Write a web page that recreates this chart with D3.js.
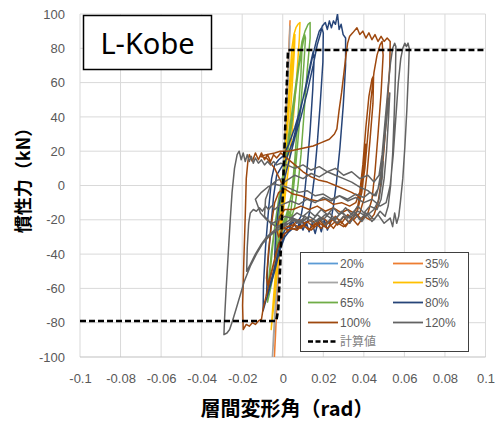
<!DOCTYPE html>
<html>
<head>
<meta charset="utf-8">
<script src="https://cdn.jsdelivr.net/npm/d3@7"></script>
<style>
  html, body { margin: 0; padding: 0; background: #ffffff; }
  svg { display: block; }
</style>
</head>
<body>
<svg id="chart" width="500" height="425"></svg>
<script>
// ---------------- DATA ----------------
const chartTitle = "L-Kobe";
const xTitle = "層間変形角（rad）";
const yTitle = "慣性力（kN）";
const xTicks = [-0.1, -0.08, -0.06, -0.04, -0.02, 0, 0.02, 0.04, 0.06, 0.08, 0.1];
const xTickLabels = ["-0.1", "-0.08", "-0.06", "-0.04", "-0.02", "0", "0.02", "0.04", "0.06", "0.08", "0.1"];
const yTicks = [-100, -80, -60, -40, -20, 0, 20, 40, 60, 80, 100];
const yTickLabels = ["-100", "-80", "-60", "-40", "-20", "0", "20", "40", "60", "80", "100"];

const seriesNames = ["20%", "35%", "45%", "55%", "65%", "80%", "100%", "120%", "計算値"];
const seriesColors = ["#5B9BD5", "#ED7D31", "#A5A5A5", "#FFC000", "#70AD47", "#264478", "#9E480E", "#636363", "#000000"];

// [drift angle (rad), force (kN)]
const s20 = [[0,0],[0.0008,15],[0.0016,30],[0.0024,42],[0.003,48],[0.0022,32],[0.001,12],[0,-6],[-0.001,-20],[-0.002,-34],[-0.003,-45],[-0.0022,-30],[-0.001,-12],[0,4],[0.0012,22],[0.0024,40],[0.0028,45],[0.0018,26],[0.0005,5],[-0.001,-18],[-0.0024,-38],[-0.0028,-42],[-0.0015,-22],[0,0]];

const s35 = [[0,0],[0.001,25],[0.002,52],[0.003,80],[0.0036,96],[0.0032,85],[0.0022,58],[0.0012,30],[0,2],[-0.001,-22],[-0.002,-48],[-0.003,-72],[-0.0036,-88],[-0.0042,-102],[-0.0036,-86],[-0.0025,-60],[-0.0012,-30],[0,-2],[0.0012,28],[0.0024,58],[0.0032,82],[0.0028,72],[0.0016,42],[0.0004,10],[-0.001,-24],[-0.0022,-52],[-0.0032,-76],[-0.0028,-64],[-0.0016,-38],[0,-2]];

const s45 = [[0,0],[0.0012,28],[0.0024,56],[0.0032,78],[0.0036,93],[0.0032,82],[0.002,52],[0.0008,22],[-0.0005,-8],[-0.0018,-38],[-0.003,-64],[-0.004,-82],[-0.0048,-95],[-0.0052,-102],[-0.0046,-88],[-0.0034,-64],[-0.002,-36],[-0.0006,-6],[0.001,24],[0.0022,50],[0.003,70],[0.0026,60],[0.0012,30],[0,2],[-0.0015,-32],[-0.003,-62],[-0.0038,-76],[-0.003,-58],[-0.0016,-30],[0,0]];

const s55 = [[0,0],[0.002,35],[0.0035,62],[0.0045,80],[0.0055,88],[0.0065,92],[0.0075,94],[0.0085,95],[0.0082,86],[0.0068,62],[0.005,36],[0.003,12],[0.001,-8],[-0.001,-28],[-0.0025,-48],[-0.004,-66],[-0.005,-76],[-0.0057,-84],[-0.005,-72],[-0.0035,-50],[-0.0015,-24],[0.0005,4],[0.0025,36],[0.0045,68],[0.0055,82],[0.006,88],[0.0058,80],[0.0045,55],[0.003,28],[0.001,0],[-0.001,-26],[-0.0028,-50],[-0.004,-62],[-0.0045,-70],[-0.0035,-55],[-0.002,-32],[0,-4],[0.002,28],[0.0038,60],[0.0042,70],[0.0036,58],[0.002,30],[0,0]];

const s65 = [[0,0],[0.003,30],[0.006,55],[0.008,72],[0.0095,84],[0.011,90],[0.0125,94],[0.0135,95],[0.0135,86],[0.012,66],[0.0105,42],[0.009,18],[0.0075,0],[0.006,-12],[0.0045,-18],[0.003,-15],[0.0015,-22],[0,-26],[-0.002,-36],[-0.004,-48],[-0.006,-60],[-0.0075,-68],[-0.007,-56],[-0.0055,-38],[-0.0035,-20],[-0.0015,-4],[0.001,12],[0.003,26],[0.005,44],[0.0075,66],[0.0095,80],[0.0108,88],[0.0112,86],[0.0105,72],[0.009,48],[0.0072,22],[0.0058,4],[0.0045,-10],[0.0035,-20],[0.0025,-14],[0.0012,-20],[-0.0005,-26],[-0.0025,-38],[-0.0045,-50],[-0.0065,-62],[-0.006,-48],[-0.0045,-30],[-0.0025,-12],[0,4],[0.0025,20],[0.0045,36],[0.0065,56],[0.0085,74],[0.0095,80],[0.009,66],[0.0075,40],[0.006,16],[0.0045,-4],[0.003,-12],[0.0015,-18],[0,-22],[-0.002,-32],[-0.0035,-40],[-0.0025,-24],[-0.001,-8],[0,0]];

const s80 = [[0,0],[0.003,14],[0.006,28],[0.009,40],[0.012,54],[0.015,70],[0.017,82],[0.0185,88],[0.0195,93],[0.021,95],[0.022,91],[0.023,96],[0.024,92],[0.025,96],[0.026,94],[0.027,100],[0.0278,91],[0.0288,94],[0.0298,88],[0.031,86],[0.031,70],[0.0298,46],[0.0282,22],[0.0265,2],[0.025,-12],[0.0235,-22],[0.022,-26],[0.0205,-20],[0.019,-27],[0.0175,-21],[0.016,-28],[0.0145,-22],[0.013,-27],[0.0115,-21],[0.01,-26],[0.0085,-22],[0.007,-26],[0.005,-25],[0.003,-27],[0.001,-30],[-0.0015,-38],[-0.004,-50],[-0.0065,-60],[-0.0085,-68],[-0.0097,-73],[-0.0095,-58],[-0.0085,-36],[-0.007,-14],[-0.0055,4],[-0.004,12],[-0.002,15],[0,17],[0.003,24],[0.006,34],[0.009,46],[0.012,60],[0.0145,74],[0.0165,84],[0.018,90],[0.0192,92],[0.02,89],[0.0198,72],[0.0185,48],[0.017,24],[0.0155,4],[0.014,-10],[0.0125,-20],[0.011,-24],[0.009,-20],[0.007,-25],[0.005,-21],[0.003,-26],[0.001,-28],[-0.002,-38],[-0.0045,-50],[-0.0068,-60],[-0.008,-64],[-0.0075,-48],[-0.006,-26],[-0.0045,-6],[-0.003,6],[-0.001,10],[0.002,16],[0.005,26],[0.008,40],[0.011,56],[0.0135,70],[0.015,78],[0.0155,74],[0.0148,56],[0.0135,32],[0.012,10],[0.0105,-8],[0.009,-18],[0.007,-22],[0.005,-19],[0.003,-24],[0.001,-26],[-0.002,-34],[-0.004,-42],[-0.0035,-28],[-0.002,-12],[0,0]];

const s100 = [[0,0],[-0.004,10],[-0.008,16],[-0.0112,17],[-0.008,18],[-0.004,19],[-0.0013,20],[0.003,20],[0.007,21],[0.011,22],[0.015,23],[0.019,25],[0.023,27],[0.0255,30],[0.0267,33],[0.0278,44],[0.029,54],[0.0302,66],[0.0312,76],[0.032,83],[0.033,87],[0.0345,89],[0.0366,92],[0.038,88],[0.0395,90],[0.041,86],[0.0425,89],[0.044,85],[0.0455,88],[0.047,84],[0.0485,87],[0.05,84],[0.0515,86],[0.053,84],[0.0528,70],[0.0515,46],[0.05,22],[0.0485,2],[0.047,-10],[0.045,-17],[0.043,-20],[0.04,-18],[0.037,-23],[0.034,-19],[0.031,-24],[0.028,-20],[0.025,-25],[0.022,-21],[0.019,-25],[0.016,-22],[0.013,-26],[0.01,-23],[0.007,-26],[0.004,-25],[0.001,-28],[-0.002,-34],[-0.0045,-46],[-0.007,-58],[-0.0085,-66],[-0.0097,-72],[-0.0105,-78],[-0.012,-79],[-0.0135,-81],[-0.015,-80],[-0.0165,-82],[-0.018,-81],[-0.0195,-84],[-0.0198,-70],[-0.0192,-44],[-0.0185,-18],[-0.018,4],[-0.0172,14],[-0.0165,18],[-0.015,14],[-0.0135,19],[-0.012,15],[-0.0105,19],[-0.009,15],[-0.0075,18],[-0.006,14],[-0.0045,18],[-0.003,16],[-0.001,19],[0.002,16],[0.006,12],[0.01,8],[0.014,5],[0.018,3],[0.022,2],[0.026,0],[0.03,-2],[0.034,-4],[0.037,-6],[0.039,-2],[0.0405,10],[0.042,30],[0.0435,50],[0.045,66],[0.0465,76],[0.048,82],[0.049,84],[0.0495,76],[0.0485,54],[0.047,30],[0.0455,8],[0.044,-8],[0.042,-16],[0.039,-20],[0.036,-16],[0.033,-22],[0.03,-18],[0.027,-23],[0.024,-19],[0.021,-24],[0.018,-20],[0.015,-24],[0.012,-21],[0.009,-25],[0.006,-23],[0.003,-26],[0,-29],[-0.003,-38],[-0.0055,-50],[-0.0075,-58],[-0.008,-54],[-0.007,-38],[-0.0055,-22],[-0.004,-10],[-0.002,-4],[0.001,-2],[0.005,-5],[0.009,-6],[0.013,-8],[0.017,-9],[0.021,-8],[0.025,-11],[0.029,-10],[0.033,-12],[0.036,-10],[0.038,-4],[0.0395,12],[0.041,34],[0.0425,52],[0.044,62],[0.0448,64],[0.0445,48],[0.043,26],[0.0415,6],[0.04,-8],[0.038,-16],[0.035,-20],[0.032,-17],[0.029,-22],[0.026,-18],[0.023,-22],[0.02,-19],[0.017,-23],[0.014,-20],[0.011,-22],[0.008,-20],[0.005,-23],[0.002,-24],[0,-25],[-0.002,-30],[-0.003,-26],[-0.0015,-18],[0.001,-14],[0.005,-14],[0.009,-12],[0.013,-14],[0.017,-12],[0.021,-15],[0.025,-13],[0.029,-16],[0.032,-14],[0.035,-16],[0.037,-12],[0.0385,-2],[0.04,14],[0.041,24],[0.0405,12],[0.039,-4],[0.037,-14],[0.034,-20],[0.03,-24],[0.026,-21],[0.022,-25],[0.018,-22],[0.014,-26],[0.01,-23],[0.006,-25],[0.002,-26],[0,-24]];

const s120 = [[0,0],[0.004,-2],[0.008,-4],[0.012,-3],[0.016,-6],[0.02,-5],[0.024,-8],[0.028,-6],[0.032,-9],[0.036,-7],[0.04,-10],[0.044,-8],[0.048,-12],[0.051,-10],[0.053,0],[0.0545,18],[0.0558,40],[0.057,60],[0.0582,74],[0.0592,80],[0.0602,83],[0.061,81],[0.0618,83],[0.0624,80],[0.062,66],[0.0612,44],[0.0602,22],[0.0592,4],[0.058,-10],[0.0572,-18],[0.0562,-22],[0.0552,-16],[0.0542,-24],[0.053,-19],[0.05,-22],[0.047,-17],[0.044,-21],[0.041,-16],[0.038,-20],[0.035,-15],[0.032,-19],[0.029,-15],[0.026,-20],[0.023,-16],[0.02,-20],[0.017,-17],[0.014,-21],[0.011,-18],[0.008,-22],[0.005,-20],[0.002,-23],[-0.001,-25],[-0.004,-27],[-0.007,-30],[-0.01,-34],[-0.013,-40],[-0.016,-47],[-0.019,-56],[-0.021,-64],[-0.023,-72],[-0.0248,-79],[-0.0262,-84],[-0.0275,-86],[-0.029,-87],[-0.0288,-80],[-0.028,-62],[-0.027,-42],[-0.026,-22],[-0.025,-4],[-0.0238,10],[-0.0225,18],[-0.0215,20],[-0.0205,15],[-0.0195,19],[-0.0185,14],[-0.0175,18],[-0.0165,14],[-0.0155,17],[-0.0145,13],[-0.0135,16],[-0.012,13],[-0.0105,15],[-0.009,12],[-0.0075,14],[-0.006,12],[-0.0045,14],[-0.003,12],[-0.001,13],[0.002,12],[0.006,10],[0.01,12],[0.014,9],[0.018,11],[0.022,8],[0.026,10],[0.03,6],[0.034,8],[0.038,4],[0.042,6],[0.045,2],[0.0475,6],[0.049,18],[0.0505,38],[0.052,58],[0.0532,72],[0.0542,80],[0.0552,83],[0.0558,81],[0.0556,66],[0.055,42],[0.0542,18],[0.0532,0],[0.052,-12],[0.0505,-18],[0.048,-15],[0.045,-20],[0.042,-16],[0.039,-21],[0.036,-17],[0.033,-22],[0.03,-18],[0.027,-22],[0.024,-19],[0.021,-23],[0.018,-19],[0.015,-22],[0.012,-19],[0.009,-22],[0.006,-20],[0.003,-22],[0,-23],[-0.004,-26],[-0.008,-30],[-0.011,-35],[-0.0135,-40],[-0.016,-46],[-0.0178,-50],[-0.0175,-36],[-0.0168,-22],[-0.016,-16],[-0.0145,-14],[-0.013,-15],[-0.0115,-13],[-0.01,-15],[-0.0085,-12],[-0.007,-14],[-0.0055,-12],[-0.004,-14],[-0.002,-12],[0,-11],[0.004,-9],[0.008,-11],[0.012,-8],[0.016,-10],[0.02,-7],[0.024,-9],[0.028,-6],[0.032,-8],[0.036,-5],[0.04,-7],[0.043,-4],[0.046,-6],[0.048,2],[0.0495,18],[0.051,36],[0.0522,50],[0.0528,54],[0.0522,40],[0.0512,20],[0.05,4],[0.0485,-8],[0.0465,-14],[0.043,-12],[0.04,-16],[0.037,-12],[0.034,-17],[0.031,-13],[0.028,-17],[0.025,-13],[0.022,-17],[0.019,-14],[0.016,-18],[0.013,-15],[0.01,-18],[0.007,-16],[0.004,-19],[0.001,-18],[-0.002,-20],[-0.005,-22],[-0.008,-20],[-0.011,-16],[-0.0135,-8],[-0.0105,-4],[-0.0075,-1],[-0.0045,1],[-0.0015,0],[0.002,3],[0.006,6],[0.01,4],[0.014,7],[0.018,5],[0.022,8],[0.026,6],[0.03,4],[0.034,2],[0.038,-1],[0.042,-3],[0.045,-6],[0.047,-2],[0.0485,8],[0.0495,14],[0.049,4],[0.0475,-8],[0.045,-14],[0.041,-18],[0.037,-15],[0.033,-19],[0.029,-16],[0.025,-20],[0.021,-17],[0.017,-21],[0.013,-18],[0.009,-21],[0.005,-19],[0.001,-22],[-0.003,-24],[-0.006,-22],[-0.009,-18],[-0.0085,-8],[-0.006,0],[-0.003,3],[0,4]];

const sCalc = [[-0.1,-79],[-0.0032,-79],[-0.0022,-72],[-0.0012,-45],[-0.0002,-12],[0.0008,20],[0.0026,79],[0.1,79]];

const seriesData = [s20, s35, s45, s55, s65, s80, s100, s120, sCalc];

// ---------------- DRAWING ----------------
const svg = d3.select("#chart");
const W = 500, H = 425;
const plot = { left: 80, right: 485.5, top: 14, bottom: 357 };

const x = d3.scaleLinear().domain([-0.1, 0.1]).range([plot.left, plot.right]);
const y = d3.scaleLinear().domain([-100, 100]).range([plot.bottom, plot.top]);

svg.append("rect").attr("x", 0).attr("y", 0).attr("width", W).attr("height", H).attr("fill", "#fff");

// gridlines
const grid = svg.append("g");
grid.selectAll("line.v").data(xTicks).enter().append("line")
  .attr("x1", d => x(d)).attr("x2", d => x(d))
  .attr("y1", plot.top).attr("y2", plot.bottom)
  .attr("stroke", "#D9D9D9").attr("stroke-width", 1);
grid.selectAll("line.h").data(yTicks).enter().append("line")
  .attr("x1", plot.left).attr("x2", plot.right)
  .attr("y1", d => y(d)).attr("y2", d => y(d))
  .attr("stroke", d => d === -100 ? "#BFBFBF" : "#D9D9D9").attr("stroke-width", 1);

// axes via d3 (labels only, no domain/ticks)
const xAxis = d3.axisBottom(x).tickValues(xTicks).tickSize(0).tickPadding(0)
  .tickFormat((d, i) => xTickLabels[i]);
const gx = svg.append("g").attr("transform", `translate(0, ${plot.bottom + 17})`).call(xAxis);
gx.select(".domain").remove();
gx.selectAll("text").attr("fill", "#595959").attr("font-size", "13px")
  .attr("font-family", "Liberation Sans, Arial, sans-serif");

const yAxis = d3.axisLeft(y).tickValues(yTicks).tickSize(0).tickPadding(0)
  .tickFormat((d, i) => yTickLabels[i]);
const gy = svg.append("g").attr("transform", `translate(${plot.left - 15}, 0)`).call(yAxis);
gy.select(".domain").remove();
gy.selectAll("text").attr("fill", "#595959").attr("font-size", "13px")
  .attr("font-family", "Liberation Sans, Arial, sans-serif");

// clip
svg.append("clipPath").attr("id", "plotclip").append("rect")
  .attr("x", plot.left).attr("y", plot.top)
  .attr("width", plot.right - plot.left).attr("height", plot.bottom - plot.top);

const line = d3.line().x(d => x(d[0])).y(d => y(d[1]));
const gSeries = svg.append("g").attr("clip-path", "url(#plotclip)");
seriesData.forEach((data, i) => {
  const isCalc = i === seriesData.length - 1;
  gSeries.append("path").datum(data)
    .attr("d", line)
    .attr("fill", "none")
    .attr("stroke", seriesColors[i])
    .attr("stroke-width", isCalc ? 2.6 : 1.5)
    .attr("stroke-dasharray", isCalc ? "6,3" : null)
    .attr("stroke-linejoin", "round");
});

// title box
const tb = svg.append("g");
tb.append("rect").attr("x", 83.5).attr("y", 15.5).attr("width", 128).attr("height", 54)
  .attr("fill", "#fff").attr("stroke", "#000").attr("stroke-width", 1.5);
tb.append("text").attr("x", 147.5).attr("y", 54).attr("text-anchor", "middle")
  .attr("font-family", "Noto Sans, sans-serif").attr("font-size", "29px").attr("fill", "#000")
  .text(chartTitle);

// legend
const lg = svg.append("g");
lg.append("rect").attr("x", 300.5).attr("y", 252.5).attr("width", 168).attr("height", 99)
  .attr("fill", "#fff").attr("stroke", "#404040").attr("stroke-width", 1);
const rowY = [263.5, 282.5, 302.5, 322.5, 341.5];
const colX = [308, 393];
seriesNames.forEach((name, i) => {
  const isCalc = i === seriesNames.length - 1;
  const cx = colX[i % 2];
  const cy = rowY[Math.floor(i / 2)];
  lg.append("line").attr("x1", cx).attr("x2", cx + 30).attr("y1", cy).attr("y2", cy)
    .attr("stroke", seriesColors[i]).attr("stroke-width", isCalc ? 2.6 : 1.8)
    .attr("stroke-dasharray", isCalc ? "5,2.5" : null);
  lg.append("text").attr("x", cx + 32).attr("y", cy + 4.5)
    .attr("font-family", isCalc ? "Noto Sans CJK JP, sans-serif" : "Liberation Sans, Arial, sans-serif")
    .attr("font-size", "12px").attr("fill", isCalc ? "#7F7F7F" : "#595959")
    .text(name);
});

// axis titles
svg.append("text").attr("x", 287).attr("y", 416)
  .attr("text-anchor", "middle").attr("font-family", "Noto Sans CJK JP, sans-serif")
  .attr("font-size", "20px").attr("font-weight", 600).attr("fill", "#000").text(xTitle);
svg.append("text").attr("transform", "translate(30, 176) rotate(-90)")
  .attr("text-anchor", "middle").attr("font-family", "Noto Sans CJK JP, sans-serif")
  .attr("font-size", "18px").attr("font-weight", 600).attr("fill", "#000").text(yTitle);
</script>
</body>
</html>
